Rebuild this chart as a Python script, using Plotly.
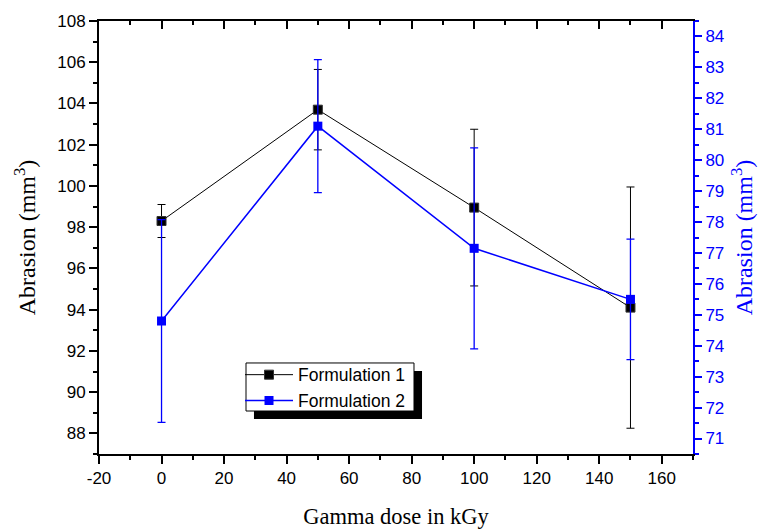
import plotly.graph_objects as go

dose = [0, 50, 100, 150]
f1_vals = [98.3, 103.7, 98.95, 94.1]
f1_err = [0.8, 1.95, 3.8, 5.85]
f2_vals = [74.8, 81.1, 77.15, 75.5]
f2_err = [3.28, 2.15, 3.25, 1.95]

x_tickvals = [-20, 0, 20, 40, 60, 80, 100, 120, 140, 160]
x_ticktext = ["-20", "0", "20", "40", "60", "80", "100", "120", "140", "160"]

tick_font = dict(family="Liberation Sans, Arial", size=17, color="black")
xtitle_font = dict(family="Liberation Serif, Times New Roman", size=22.5, color="black")
ytitle_font = dict(family="Liberation Serif, Times New Roman", size=24, color="black")

fig = go.Figure()
fig.add_trace(go.Scatter(
    x=dose, y=f1_vals, name="Formulation 1", mode="lines+markers",
    line=dict(color="black", width=1),
    marker=dict(symbol="square", size=9, color="black", line=dict(color="#333", width=1)),
    error_y=dict(type="data", array=f1_err, visible=True, color="black", thickness=1, width=4),
    xaxis="x", yaxis="y",
))
fig.add_trace(go.Scatter(
    x=dose, y=f2_vals, name="Formulation 2", mode="lines+markers",
    line=dict(color="#0000FF", width=1.5),
    marker=dict(symbol="square", size=9, color="#0000FF"),
    error_y=dict(type="data", array=f2_err, visible=True, color="#0000FF", thickness=1.3, width=4),
    xaxis="x", yaxis="y2",
))
fig.add_trace(go.Scatter(x=[None], y=[None], xaxis="x2", yaxis="y", showlegend=False, hoverinfo="skip"))

fig.update_layout(
    width=759, height=521,
    margin=dict(l=91, r=74, t=13, b=75),
    paper_bgcolor="white", plot_bgcolor="white",
    showlegend=True,
    legend=dict(
        x=0.2374, y=0.2245, xanchor="left", yanchor="top",
        bgcolor="rgba(0,0,0,0)", borderwidth=0,
        font=dict(family="Liberation Sans, Arial", size=17.5, color="black"),
        tracegroupgap=0, itemwidth=48,
    ),
    xaxis=dict(
        range=[-20, 170], tickmode="array", tickvals=x_tickvals, ticktext=x_ticktext,
        showgrid=False, zeroline=False, automargin=False,
        showline=True, linecolor="black", linewidth=2, mirror=True,
        ticks="outside", ticklen=8, tickwidth=1.5, tickcolor="black",
        minor=dict(dtick=10, ticks="outside", ticklen=4, tickwidth=1.5, tickcolor="black"),
        tickfont=tick_font,
        title=dict(text="Gamma dose in kGy", font=xtitle_font, standoff=23),
    ),
    xaxis2=dict(
        range=[-20, 170], overlaying="x", side="top", anchor="y", automargin=False,
        tick0=-20, dtick=20, showgrid=False, zeroline=False, showline=False,
        showticklabels=False, ticks="inside", ticklen=8, tickwidth=1.5, tickcolor="black",
        minor=dict(dtick=10, ticks="inside", ticklen=4, tickwidth=1.5, tickcolor="black"),
    ),
    yaxis=dict(
        range=[87, 108], tick0=88, dtick=2, showgrid=False, zeroline=False, automargin=False,
        showline=True, linecolor="black", linewidth=2, mirror=False,
        ticks="outside", ticklen=8, tickwidth=1.5, tickcolor="black",
        minor=dict(dtick=1, ticks="outside", ticklen=4, tickwidth=1.5, tickcolor="black"),
        tickfont=tick_font,
        title=dict(text="Abrasion (mm<sup>3</sup>)", font=ytitle_font, standoff=15),
    ),
    yaxis2=dict(
        range=[70.5, 84.5], tick0=71, dtick=1, overlaying="y", side="right", anchor="x",
        showgrid=False, zeroline=False, automargin=False,
        showline=True, linecolor="#0000FF", linewidth=2,
        ticks="outside", ticklen=7, tickwidth=1.5, tickcolor="#0000FF",
        minor=dict(dtick=0.5, ticks="outside", ticklen=4, tickwidth=1.5, tickcolor="#0000FF"),
        tickfont=dict(family="Liberation Sans, Arial", size=17, color="#0000FF"),
        title=dict(text="Abrasion (mm<sup>3</sup>)",
                   font=dict(family="Liberation Serif, Times New Roman", size=24, color="#0000FF"),
                   standoff=12),
    ),
    shapes=[
        dict(type="rect", xref="paper", yref="paper",
             x0=0.2609, x1=0.5438, y0=0.0808, y1=0.1917,
             fillcolor="black", line=dict(width=0), layer="above"),
        dict(type="rect", xref="paper", yref="paper",
             x0=0.2475, x1=0.5303, y0=0.0993, y1=0.2102,
             fillcolor="white", line=dict(color="black", width=1), layer="above"),
    ],
)

fig.write_html("out.html")
